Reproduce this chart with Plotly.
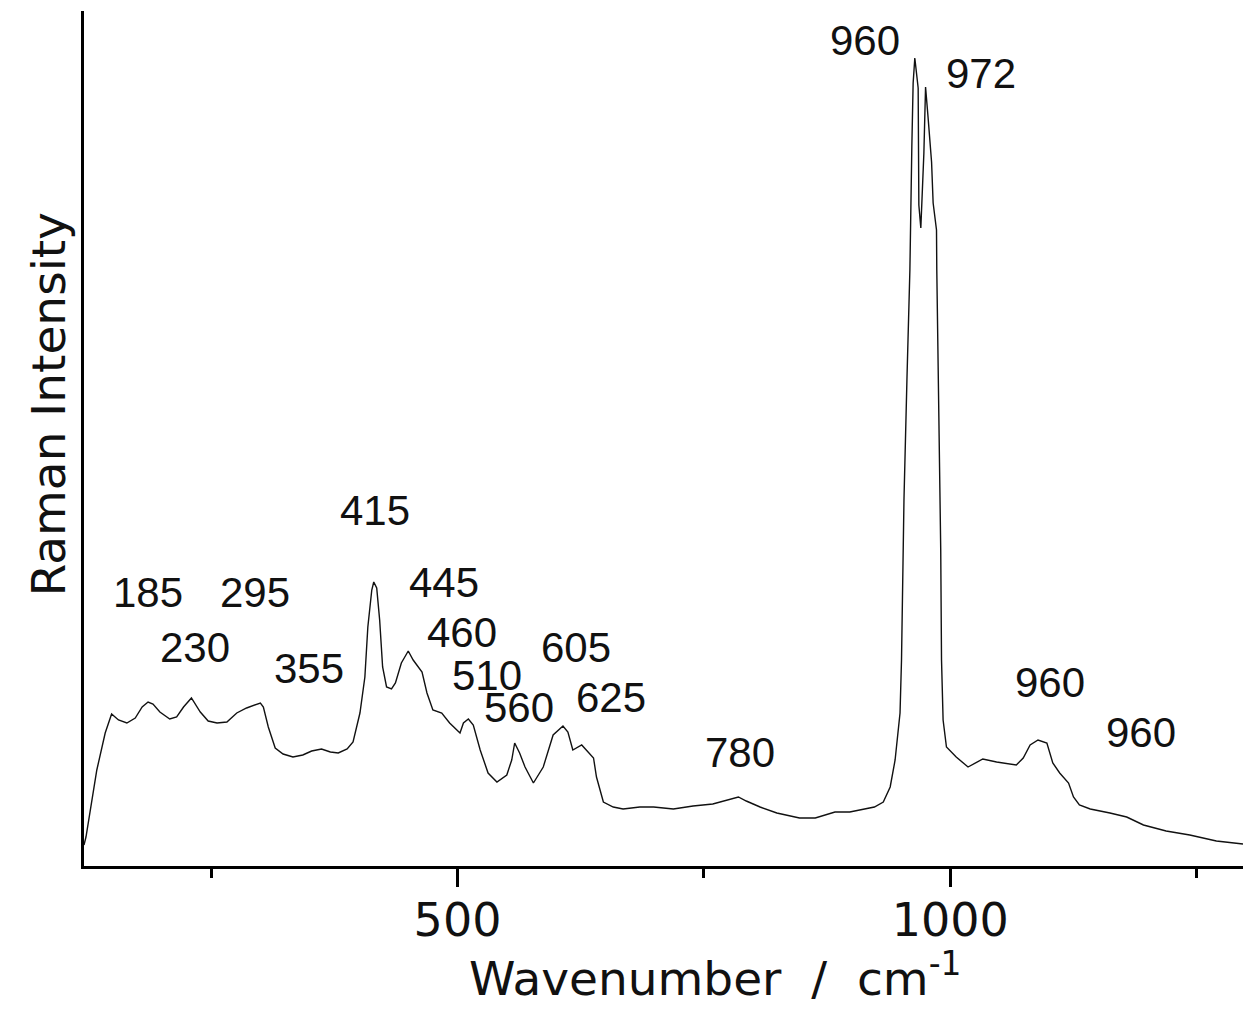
import plotly.graph_objects as go

# Raman spectrum (arbitrary intensity units)
wavenumber = [121, 123, 134, 142.5, 149, 156, 164.5, 173, 180, 186, 191, 198, 208, 215, 222, 230, 239, 247,
              256, 266, 276, 286, 300, 303, 308, 315, 323, 333, 343, 352, 362, 371, 379, 388, 394, 401, 406,
              409, 413, 415, 418, 421, 424, 428, 433, 437, 443, 450, 455, 464, 469, 475, 484, 492, 502.5, 506,
              511, 516, 523, 531, 540, 550, 555, 558, 563, 568.5, 577, 587, 597, 607, 612, 617, 626, 638, 641,
              648, 658, 668, 685, 699, 719, 739, 759, 776, 785, 793, 807, 824, 847, 863, 883, 898, 923, 932,
              939, 944, 949, 950.5, 953, 956, 959, 961, 962.3, 964, 967.4, 968.1, 970.1, 973.2, 974.9, 977.5,
              981, 982.6, 986, 986.3, 988.3, 990.3, 991.1, 992.7, 996.1, 1006, 1018, 1027, 1033, 1047, 1067,
              1074, 1081, 1089, 1098, 1104, 1111, 1120, 1125, 1131, 1142, 1162, 1179, 1196, 1219, 1243, 1270,
              1297]
intensity = [21, 29, 96, 133, 152, 146, 143, 148, 159, 164, 162, 154, 147, 149, 159, 168, 154, 145,
             143, 144, 153, 158, 163, 159, 139, 118, 112, 109, 111, 115, 117, 114, 113, 117, 124, 153, 189,
             239, 276, 284, 278, 246, 199, 179, 177, 183, 203, 215, 206, 194, 173, 156, 153, 143, 133, 143,
             147, 141, 116, 93, 84, 91, 106, 123, 113, 99, 83, 99, 131, 140, 134, 116, 121, 108, 89,
             64, 59, 57, 59, 59, 57, 60, 62, 67, 69, 65, 59, 53, 48, 48, 54, 54, 59, 64,
             79, 106, 153, 206, 366, 486, 596, 721, 783, 808, 778, 661, 638, 713, 779, 748,
             704, 663, 636, 596, 466, 316, 206, 146, 119, 109, 99, 104, 107, 104, 101,
             108, 121, 126, 123, 103, 93, 83, 69, 61, 57, 53, 49, 41, 35, 31, 25,
             22]

# Peak labels and their positions (wavenumber, intensity)
peak_labels = ["185", "230", "295", "355", "415", "445", "460", "510", "560", "605", "625",
               "780", "960", "972", "960", "960"]
label_x = [185.6, 233.8, 294.6, 349.4, 415.8, 485.8, 504.1, 529.9, 562.4, 620.2, 656.2,
           786.5, 913.3, 1030.9, 1100.9, 1193.2]
label_y = [274, 219, 274, 198, 356, 284, 234, 191, 159, 219, 169,
           114, 826, 793, 184, 134]

x_range = [121, 1297]
y_range = [0, 855]
x_title = "Wavenumber  /  cm<sup>-1</sup>"
y_title = "Raman Intensity"

FONT = "Liberation Sans, Arial, sans-serif"
WIDE = "DejaVu Sans, sans-serif"

fig = go.Figure()
fig.add_trace(go.Scatter(x=wavenumber, y=intensity, mode="lines",
                         line=dict(color="#111111", width=1.4), showlegend=False,
                         hoverinfo="skip"))

for t, xv, yv in zip(peak_labels, label_x, label_y):
    fig.add_annotation(x=xv, y=yv, text=t, showarrow=False, xanchor="center", yanchor="middle",
                       font=dict(family=FONT, size=42, color="#111111"))

fig.add_annotation(xref="paper", yref="paper", x=0.5444, y=-0.128, text=x_title, showarrow=False,
                   xanchor="center", yanchor="middle",
                   font=dict(family=WIDE, size=47, color="#111111"))
fig.add_annotation(xref="paper", yref="paper", x=-0.031, y=0.540, text=y_title, showarrow=False,
                   textangle=-90, xanchor="center", yanchor="middle",
                   font=dict(family=WIDE, size=47, color="#111111"))

fig.update_layout(
    width=1243, height=1009,
    margin=dict(l=84, r=0, t=11, b=143),
    paper_bgcolor="white", plot_bgcolor="white",
    xaxis=dict(range=x_range, showgrid=False, zeroline=False, showline=True,
               linecolor="black", linewidth=3, ticks="outside", ticklen=18, tickwidth=2.5,
               tickcolor="black", tick0=0, dtick=500, ticklabelstandoff=-6,
               tickfont=dict(family=WIDE, size=46, color="#111111"),
               minor=dict(ticks="outside", ticklen=9, tickwidth=2.5, tickcolor="black",
                          dtick=250, tick0=0, showgrid=False)),
    yaxis=dict(range=y_range, showgrid=False, zeroline=False, showline=True,
               linecolor="black", linewidth=3, ticks="", showticklabels=False),
)

fig.write_html("out.html")
